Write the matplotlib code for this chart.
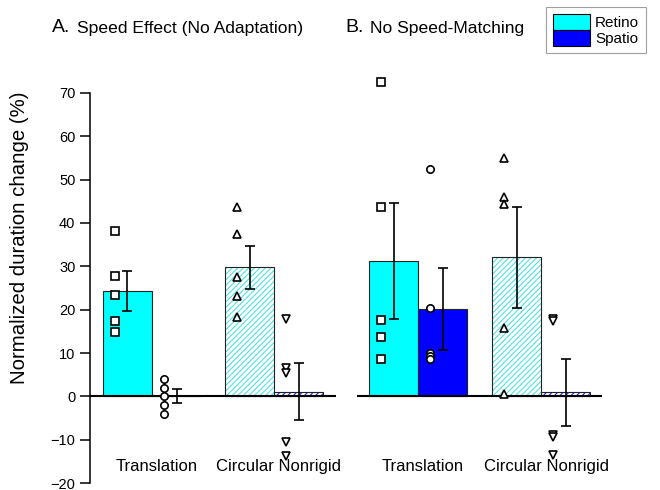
"""Normalized duration change: speed effect vs. no speed-matching."""
import matplotlib

matplotlib.use("Agg")
import matplotlib.pyplot as plt
from matplotlib.patches import Patch

plt.rcParams["font.family"] = ["Liberation Sans", "DejaVu Sans"]
plt.rcParams["hatch.linewidth"] = 0.8

# values (percent)
conditions = ["Translation", "Circular Nonrigid"]
series = ["Retino", "Spatio"]

a_means = [[24.3, 0.0], [29.8, 1.1]]
a_errs = [[4.7, 1.6], [5.0, 6.6]]
a_points = [
    [[38.1, 27.8, 23.4, 17.4, 14.9], [4.1, 2.0, 0.0, -2.0, -4.0]],
    [[43.6, 37.4, 27.5, 23.2, 18.3], [17.9, 6.6, 5.5, -10.6, -13.8]],
]

b_means = [[31.2, 20.2], [32.1, 0.9]]
b_errs = [[13.3, 9.5], [11.6, 7.8]]
b_points = [
    [[72.5, 43.6, 17.7, 13.8, 8.7], [52.5, 20.4, 10.1, 9.3, 8.7]],
    [[55.0, 45.9, 44.3, 15.8, 0.5], [17.9, 17.5, -9.0, -9.3, -13.6]],
]

# layout (x in bar-width units, 0 at the y axis)
a_centers = [1.265, 3.755]
b_centers = [6.694, 9.204]
cond_markers = [("s", "o"), ("^", "v")]
solid_colors = ["#00ffff", "#0000ff"]
hatch_colors = ["#4fe3e3", "#2020ff"]

fig = plt.figure(figsize=(6.6, 4.9), dpi=100)
ax = fig.add_axes([90 / 660, 7 / 490, 570 / 660, 390 / 490])
ax.set_xlim(0, 11.63)
ax.set_ylim(-20, 70)


def draw_panel(centers, means, errs, points):
    for c, (cx, m, e, pts) in enumerate(zip(centers, means, errs, points)):
        for s in range(2):
            bx = cx - 0.5 + s
            if c == 0:
                ax.bar(bx, m[s], width=1, color=solid_colors[s],
                       edgecolor="#222222", linewidth=0.8, zorder=2)
            else:
                ax.bar(bx, m[s], width=1, color="white", edgecolor=hatch_colors[s],
                       hatch="//////", linewidth=0, zorder=2)
                ax.bar(bx, m[s], width=1, fill=False, edgecolor="#222222",
                       linewidth=0.8, zorder=2.1)
            ax.errorbar(bx, m[s], yerr=e[s], fmt="none", ecolor="black",
                        elinewidth=1.2, capsize=3.4, capthick=1.2, zorder=3)
            px = cx - 0.75 + s
            ax.plot([px] * len(pts[s]), pts[s], linestyle="none",
                    marker=cond_markers[c][s], markersize=6 if c else 5.3,
                    markerfacecolor="white", markeredgecolor="black",
                    markeredgewidth=1.2, zorder=4, clip_on=False)
        ax.text(cx + 0.1, -16.3, conditions[c], ha="center", va="center", fontsize=12)


draw_panel(a_centers, a_means, a_errs, a_points)
draw_panel(b_centers, b_means, b_errs, b_points)

ax.hlines(0, 0, 5.02, color="black", linewidth=1.5, zorder=2.5)
ax.hlines(0, 5.45, 10.45, color="black", linewidth=1.5, zorder=2.5)

for side in ("top", "right", "bottom"):
    ax.spines[side].set_visible(False)
ax.spines["left"].set_linewidth(1.1)
ax.set_xticks([])
ax.set_yticks(range(-20, 71, 10))
ax.tick_params(axis="y", direction="out", length=7, width=1.1, pad=3.5, labelsize=10.5)
ax.set_ylabel("Normalized duration change (%)", fontsize=14.7)
ax.yaxis.set_label_coords(-0.1075, 0.63)

fig.text(52 / 660, 1 - 27 / 490, "A.", fontsize=14, va="center")
fig.text(77 / 660, 1 - 28 / 490, "Speed Effect (No Adaptation)", fontsize=12.6, va="center")
fig.text(345 / 660, 1 - 27 / 490, "B.", fontsize=14, va="center")
fig.text(370 / 660, 1 - 28 / 490, "No Speed-Matching", fontsize=12.6, va="center")

handles = [Patch(facecolor=col, edgecolor="black", linewidth=0.8) for col in solid_colors]
leg = fig.legend(handles, series, loc="upper left", bbox_to_anchor=(546 / 660, 1 - 7 / 490),
                 fontsize=11, frameon=True, fancybox=False, edgecolor="#888888",
                 handlelength=2.4, handleheight=1.2, labelspacing=0.0,
                 handletextpad=0.35, borderpad=0.45, borderaxespad=0)
leg.get_frame().set_linewidth(0.8)

fig.savefig("out.png", dpi=100)
